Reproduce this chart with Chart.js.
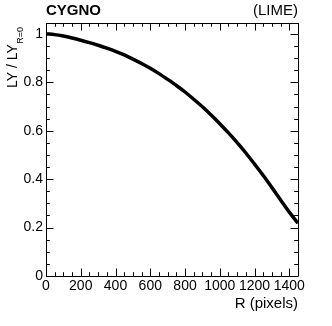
<!DOCTYPE html>
<html>
<head>
<meta charset="utf-8">
<script src="https://cdn.jsdelivr.net/npm/chart.js@4/dist/chart.umd.min.js"></script>
<style>
  html, body { margin: 0; padding: 0; background: #fff; }
  canvas { display: block; }
</style>
</head>
<body>
<canvas id="grafico" width="332" height="326"></canvas>
<script>
// Dados
const rValues = [0, 50, 100, 150, 200, 250, 300, 350, 400, 450, 500, 550, 600, 650, 700,
  750, 800, 850, 900, 950, 1000, 1050, 1100, 1150, 1200, 1250, 1300, 1350, 1400, 1450];
const lyValues = [1.000, 0.997, 0.991, 0.983, 0.974, 0.964, 0.953, 0.941, 0.928, 0.913, 0.896,
  0.878, 0.858, 0.836, 0.812, 0.787, 0.760, 0.730, 0.699, 0.665, 0.629, 0.591, 0.551, 0.508,
  0.462, 0.415, 0.365, 0.314, 0.264, 0.218];

const xTickValues = [0, 200, 400, 600, 800, 1000, 1200, 1400];
const xTickLabels = ["0", "200", "400", "600", "800", "1000", "1200", "1400"];
const yTickValues = [0, 0.2, 0.4, 0.6, 0.8, 1];
const yTickLabels = ["0", "0.2", "0.4", "0.6", "0.8", "1"];
const xMinor = 50;
const yMinor = 0.05;

const FONT = "'Liberation Sans', Arial, Helvetica, sans-serif";

// Moldura, marcas internas (estilo ROOT) e textos
const framePlugin = {
  id: "frame",
  afterDraw(chart) {
    const ctx = chart.ctx;
    const a = chart.chartArea;
    const xs = chart.scales.x;
    const ys = chart.scales.y;
    ctx.save();

    ctx.strokeStyle = "#000";
    ctx.lineWidth = 1;
    ctx.beginPath();
    // marcas no eixo x (baixo e cima)
    for (let v = xs.min; v <= xs.max + 1e-6; v += xMinor) {
      const px = Math.round(xs.getPixelForValue(v)) + 0.5;
      const len = xTickValues.includes(v) ? 7.5 : 3.8;
      ctx.moveTo(px, a.bottom); ctx.lineTo(px, a.bottom - len);
      ctx.moveTo(px, a.top); ctx.lineTo(px, a.top + len);
    }
    // marcas no eixo y (esquerda e direita)
    for (let i = 0; i * yMinor <= ys.max + 1e-6; i++) {
      const v = i * yMinor;
      const py = Math.round(ys.getPixelForValue(v)) + 0.5;
      const major = i % 4 === 0;
      const len = major ? 7.5 : 3.8;
      ctx.moveTo(a.left, py); ctx.lineTo(a.left + len, py);
      ctx.moveTo(a.right, py); ctx.lineTo(a.right - len, py);
    }
    ctx.stroke();

    ctx.beginPath();
    ctx.rect(Math.round(a.left) + 0.5, Math.round(a.top) + 0.5,
      Math.round(a.right - a.left), Math.round(a.bottom - a.top));
    ctx.stroke();

    ctx.fillStyle = "#000";
    ctx.textBaseline = "alphabetic";
    ctx.font = "bold 15px " + FONT;
    ctx.textAlign = "left";
    ctx.fillText("CYGNO", a.left, 14.5);
    ctx.font = "15px " + FONT;
    ctx.textAlign = "right";
    ctx.fillText("(LIME)", a.right, 14.5);
    ctx.fillText("R (pixels)", a.right, 307.5);

    // titulo do eixo y com subscrito
    ctx.translate(17, 88);
    ctx.rotate(-Math.PI / 2);
    ctx.textAlign = "left";
    ctx.font = "14px " + FONT;
    const main = "LY / LY";
    ctx.fillText(main, 0, 0);
    const w = ctx.measureText(main).width;
    ctx.font = "9px " + FONT;
    ctx.fillText("R=0", w + 0.5, 5.5);
    ctx.restore();
  }
};

new Chart(document.getElementById("grafico"), {
  type: "line",
  data: {
    datasets: [{
      data: rValues.map((r, i) => ({ x: r, y: lyValues[i] })),
      borderColor: "#000",
      borderWidth: 3.5,
      pointRadius: 0,
      cubicInterpolationMode: "monotone",
      fill: false
    }]
  },
  options: {
    responsive: false,
    devicePixelRatio: 1,
    animation: false,
    layout: { padding: { top: 23, right: 34, left: 0, bottom: 0 } },
    plugins: { legend: { display: false }, tooltip: { enabled: false } },
    scales: {
      x: {
        type: "linear",
        min: 0,
        max: 1450,
        grid: { display: false, drawTicks: false },
        border: { display: false },
        afterBuildTicks: (s) => { s.ticks = xTickValues.map(v => ({ value: v })); },
        afterFit: (s) => { s.height = 50; },
        ticks: {
          color: "#000",
          padding: 2,
          maxRotation: 0,
          autoSkip: false,
          font: { family: FONT, size: 14 },
          callback: (v) => xTickLabels[xTickValues.indexOf(v)]
        }
      },
      y: {
        min: 0,
        max: 1.045,
        grid: { display: false, drawTicks: false },
        border: { display: false },
        afterBuildTicks: (s) => { s.ticks = yTickValues.map(v => ({ value: v })); },
        afterFit: (s) => { s.width = 46; },
        ticks: {
          color: "#000",
          padding: 3,
          autoSkip: false,
          font: { family: FONT, size: 14 },
          callback: (v) => yTickLabels[yTickValues.indexOf(v)]
        }
      }
    }
  },
  plugins: [framePlugin]
});
</script>
</body>
</html>
